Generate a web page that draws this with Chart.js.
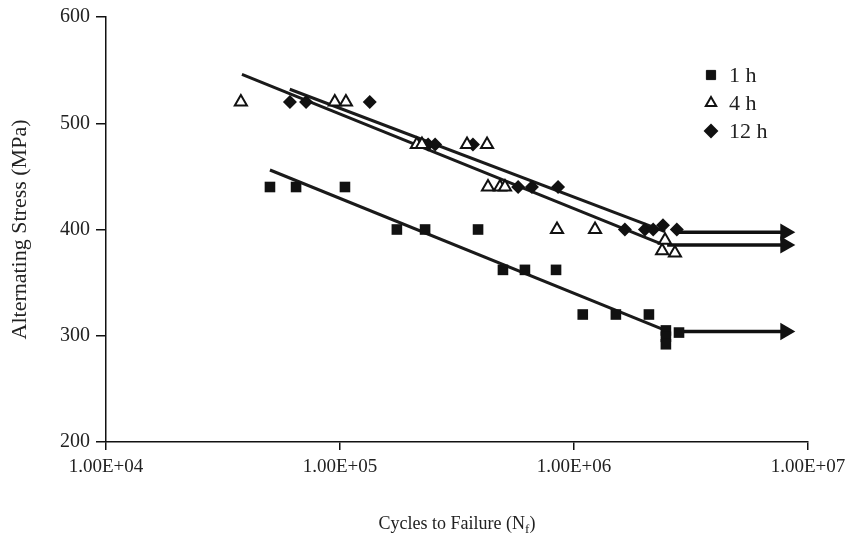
<!DOCTYPE html>
<html>
<head>
<meta charset="utf-8">
<script src="https://cdn.jsdelivr.net/npm/chart.js@4.4.0/dist/chart.umd.min.js"></script>
<style>
	html, body { margin: 0; padding: 0; background: #fff; }
	#wrap { width: 845px; height: 543px; }
</style>
</head>
<body>
<div id="wrap"><canvas id="sn"></canvas></div>
<script>
// values
const xTicks = [1e4, 1e5, 1e6, 1e7];
const yTicks = [200, 300, 400, 500, 600];

const cycles1h = [50200, 64900, 105000, 175000, 231000, 389000, 497000, 617000, 838000, 1090000, 1510000, 2090000, 2470000, 2470000, 2470000, 2810000];
const stress1h = [440, 440, 440, 400, 400, 400, 362, 362, 362, 320, 320, 320, 305, 299, 292, 303];

const cycles4h = [37700, 95000, 106000, 213000, 224000, 349000, 425000, 429000, 483000, 507000, 846000, 1230000, 2380000, 2450000, 2700000];
const stress4h = [520, 520, 520, 480, 480, 480, 480, 440, 440, 440, 400, 400, 380, 390, 378];

const cycles12h = [61100, 71600, 134000, 238000, 255000, 370000, 577000, 661000, 855000, 1650000, 2010000, 2180000, 2400000, 2750000];
const stress12h = [520, 520, 520, 480, 480, 480, 440, 440, 440, 400, 400, 400, 404, 400];

// fitted lines (end points) and run-out arrows
const fit1hX = [50200, 2400000], fit1hY = [456, 306];
const fit4hX = [38100, 2330000], fit4hY = [546, 387];
const fit12hX = [61000, 2450000], fit12hY = [532, 398];
const runout1hX = [2800000, 8000000], runout1hY = [304, 304];
const runout4hX = [2500000, 8000000], runout4hY = [385.5, 385.5];
const runout12hX = [2800000, 8000000], runout12hY = [397.5, 397.5];

const legendLabels = ['1 h', '4 h', '12 h'];

const serif = '"Liberation Serif", "Times New Roman", serif';

const markerRadius = { rect: 7.5, triangle: 7, rectRot: 7 };

function pts(xs, ys) {
	return xs.map((x, i) => ({ x: x, y: ys[i] }));
}

function scatterSet(label, xs, ys, style, fill) {
	return {
		type: 'scatter',
		label: label,
		data: pts(xs, ys),
		pointStyle: style,
		pointRadius: markerRadius[style],
		pointBorderWidth: style === 'triangle' ? 2 : 0,
		pointBackgroundColor: fill,
		pointBorderColor: '#111',
		showLine: false
	};
}

function lineSet(xs, ys, width) {
	return {
		type: 'line',
		data: pts(xs, ys),
		borderColor: '#1a1a1a',
		borderWidth: width,
		pointRadius: 0,
		fill: false
	};
}

function arrowSet(xs, ys) {
	return {
		type: 'line',
		data: pts(xs, ys),
		borderColor: '#111',
		borderWidth: 3.5,
		pointRadius: [0, 10],
		pointStyle: 'triangle',
		rotation: 90,
		pointBackgroundColor: '#111',
		pointBorderWidth: 0,
		fill: false
	};
}

const sciLabel = v => {
	const e = Math.round(Math.log10(v));
	return '1.00E+' + String(e).padStart(2, '0');
};

const extras = {
	id: 'extras',
	afterDraw(chart) {
		const ctx = chart.ctx;
		ctx.save();
		// legend
		const lx = 711, ly = [75, 103, 131];
		const styles = ['rect', 'triangle', 'rectRot'];
		styles.forEach((s, i) => {
			ctx.fillStyle = s === 'triangle' ? '#fff' : '#111';
			ctx.strokeStyle = '#111';
			ctx.lineWidth = s === 'triangle' ? 2 : 0;
			Chart.helpers.drawPoint(ctx, {
				pointStyle: s,
				radius: markerRadius[s] - 1,
				rotation: 0,
				borderWidth: ctx.lineWidth
			}, lx, ly[i]);
			ctx.font = '22px ' + serif;
			ctx.textBaseline = 'middle';
			ctx.textAlign = 'left';
			ctx.fillStyle = '#222';
			ctx.fillText(legendLabels[i], 729, ly[i] + 1);
		});
		// x axis title with subscript
		const main = 'Cycles to Failure (N';
		ctx.font = '18px ' + serif;
		const w1 = ctx.measureText(main).width;
		ctx.font = '13px ' + serif;
		const w2 = ctx.measureText('f').width;
		ctx.font = '18px ' + serif;
		const w3 = ctx.measureText(')').width;
		const cx = (chart.chartArea.left + chart.chartArea.right) / 2;
		let x0 = cx - (w1 + w2 + w3) / 2;
		const y0 = 529;
		ctx.fillStyle = '#222';
		ctx.textBaseline = 'alphabetic';
		ctx.fillText(main, x0, y0);
		ctx.font = '13px ' + serif;
		ctx.fillText('f', x0 + w1, y0 + 4);
		ctx.font = '18px ' + serif;
		ctx.fillText(')', x0 + w1 + w2, y0);
		ctx.restore();
	}
};

new Chart(document.getElementById('sn'), {
	data: {
		datasets: [
			scatterSet('1 h', cycles1h, stress1h, 'rect', '#111'),
			scatterSet('4 h', cycles4h, stress4h, 'triangle', '#fff'),
			scatterSet('12 h', cycles12h, stress12h, 'rectRot', '#111'),
			lineSet(fit1hX, fit1hY, 3),
			lineSet(fit4hX, fit4hY, 3),
			lineSet(fit12hX, fit12hY, 3),
			arrowSet(runout1hX, runout1hY),
			arrowSet(runout4hX, runout4hY),
			arrowSet(runout12hX, runout12hY)
		]
	},
	options: {
		responsive: true,
		maintainAspectRatio: false,
		animation: false,
		layout: { padding: { top: 17, right: 37, left: 0, bottom: 0 } },
		plugins: {
			legend: { display: false },
			tooltip: { enabled: false }
		},
		scales: {
			x: {
				type: 'logarithmic',
				min: 1e4,
				max: 1e7,
				afterBuildTicks: s => { s.ticks = xTicks.map(v => ({ value: v })); },
				afterFit: s => { s.height = 101; s.paddingLeft = 0; s.paddingRight = 0; },
				border: { display: true, color: '#111', width: 1.5 },
				grid: { drawOnChartArea: false, drawTicks: true, tickLength: 8, color: '#111', lineWidth: 1.5 },
				ticks: {
					callback: v => sciLabel(v),
					color: '#222',
					padding: 6,
					maxRotation: 0,
					font: { family: serif, size: 19 }
				}
			},
			y: {
				min: 200,
				max: 600,
				afterBuildTicks: s => { s.ticks = yTicks.map(v => ({ value: v })); },
				afterFit: s => { s.width = 106; s.paddingTop = 0; s.paddingBottom = 0; },
				border: { display: true, color: '#111', width: 1.5 },
				grid: { drawOnChartArea: false, drawTicks: true, tickLength: 10, color: '#111', lineWidth: 1.5 },
				ticks: {
					color: '#222',
					padding: 6,
					font: { family: serif, size: 20 }
				},
				title: {
					display: true,
					text: 'Alternating Stress (MPa)',
					color: '#222',
					padding: { top: 7, bottom: 0 },
					font: { family: serif, size: 22 }
				}
			}
		}
	},
	plugins: [extras]
});
</script>
</body>
</html>
